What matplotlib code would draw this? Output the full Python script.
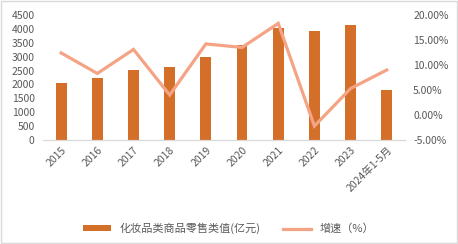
import matplotlib.pyplot as plt
import matplotlib.patches as mpatches
from matplotlib.ticker import FuncFormatter

plt.rcParams['font.family'] = ['Noto Sans CJK SC', 'DejaVu Sans']

categories = ['2015', '2016', '2017', '2018', '2019', '2020', '2021', '2022', '2023', '2024年1-5月']
sales = [2049, 2222, 2514, 2619, 2992, 3400, 4026, 3936, 4142, 1787]
growth = [12.4, 8.3, 13.1, 4.0, 14.2, 13.5, 18.3, -2.2, 5.3, 9.0]

bar_color = '#D46F2A'
line_color = '#F4A384'
text_color = '#595959'

fig = plt.figure(figsize=(4.58, 2.44), dpi=100)
ax = fig.add_axes([0.094, 0.426, 0.79, 0.513])
ax2 = ax.twinx()

x = range(len(categories))
ax.bar(x, sales, width=0.3, color=bar_color, label='化妆品类商品零售类值(亿元)', zorder=2)
ax2.plot(x, growth, color=line_color, lw=2.3, label='增速（%）', solid_joinstyle='miter')

ax.set_xlim(-0.5, len(categories) - 0.5)
ax.set_ylim(0, 4500)
ax.set_yticks(range(0, 4501, 500))
ax2.set_ylim(-5, 20)
ax2.set_yticks(range(-5, 21, 5))
ax2.yaxis.set_major_formatter(FuncFormatter(lambda v, p: f'{v:.2f}%'))

ax.set_xticks(list(x))
ax.set_xticklabels(categories, rotation=45, ha='right', rotation_mode='anchor')

for a in (ax, ax2):
    for s in ('top', 'left', 'right'):
        a.spines[s].set_visible(False)
    a.spines['bottom'].set_color('#D9D9D9')
    a.tick_params(length=0, labelsize=7.5, labelcolor=text_color)
ax.tick_params(axis='y', pad=6)
ax2.tick_params(axis='y', pad=6)

handles = [ax.patches[0], ax2.lines[0]]
fig.legend(handles, ['化妆品类商品零售类值(亿元)', '增速（%）'], loc='lower center',
           bbox_to_anchor=(0.5, 0.0), ncol=2, frameon=False, fontsize=8,
           labelcolor=text_color, handlelength=2.5, handleheight=0.4, columnspacing=2.0)

fig.patches.append(mpatches.Rectangle((0.002, 0.004), 0.996, 0.992, transform=fig.transFigure,
                                      fill=False, edgecolor='#D9D9D9', lw=1))

fig.savefig('out.png', dpi=100)
